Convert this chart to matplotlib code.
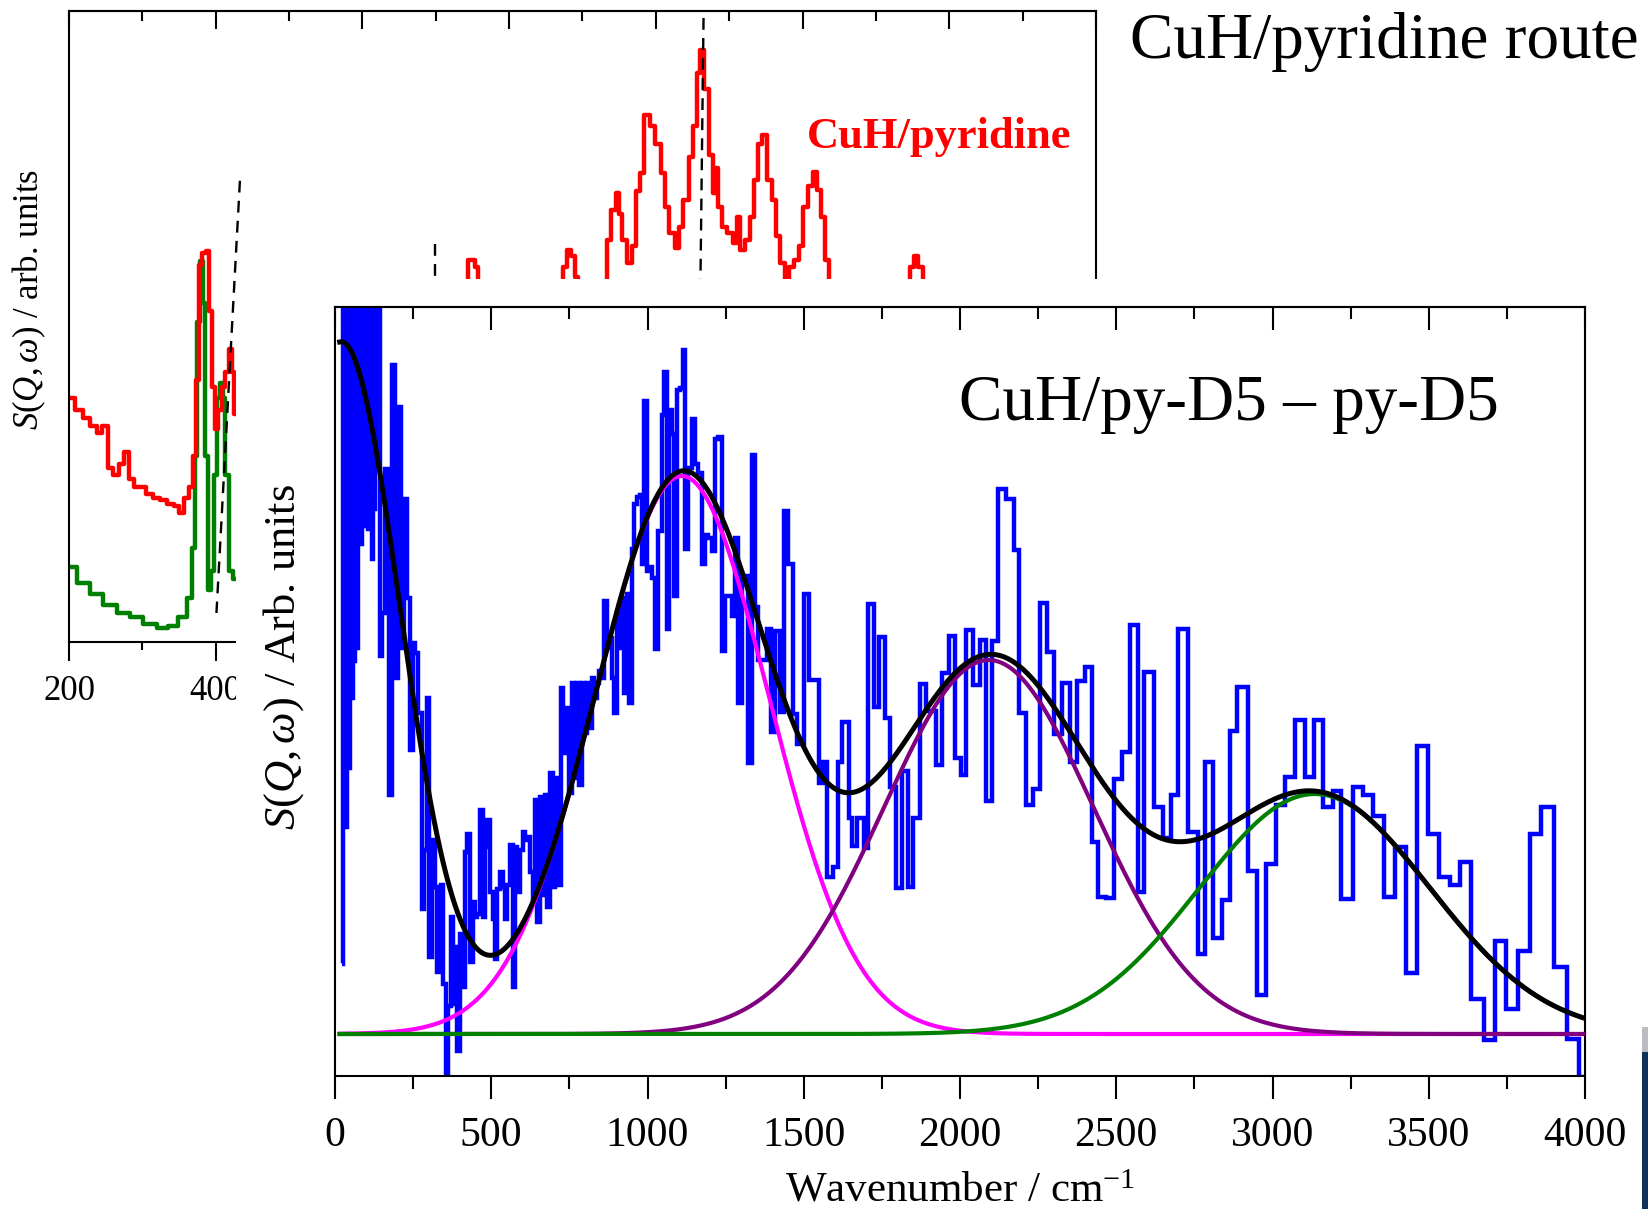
import numpy as np
import matplotlib
matplotlib.use("Agg")
import matplotlib.pyplot as plt
from matplotlib.patches import Rectangle
from matplotlib.ticker import MultipleLocator

plt.rcParams['font.family'] = ['Liberation Serif', 'DejaVu Serif']
plt.rcParams['mathtext.fontset'] = 'custom'
plt.rcParams['mathtext.rm'] = 'Liberation Serif'
plt.rcParams['mathtext.it'] = 'Liberation Serif:italic'
plt.rcParams['mathtext.bf'] = 'Liberation Serif:bold'

# ---------------- background spectrum (CuH/pyridine, partly hidden) ----------------
bg_red_x = [201, 215, 224, 233, 242, 249, 256, 265, 272, 279, 285, 292, 301, 310, 320, 329, 338, 347,
            354, 360, 367, 372, 375, 379, 384, 389, 392, 397, 401, 406, 411, 415, 420, 424, 426,
            440, 740, 748, 752, 756, 760, 870, 876, 881, 888, 892, 896, 930,
            936, 943, 948, 952, 957, 964, 970, 976, 981, 988, 995, 1003, 1010, 1015, 1022, 1029,
            1034, 1041, 1048, 1053, 1058, 1062, 1069, 1075, 1080, 1083, 1086, 1093, 1101, 1108,
            1112, 1117, 1125, 1131, 1137, 1142, 1148, 1155, 1161, 1166, 1172, 1179, 1185, 1191,
            1198, 1204, 1211, 1217, 1223, 1227, 1233, 1240, 1343, 1349, 1354, 1361, 1366, 1600]
bg_red_y = [.386, .367, .355, .343, .331, .343, .276, .264, .282, .301, .258, .246, .246, .234, .228,
            .225, .219, .216, .204, .228, .246, .295, .416, .598, .616, .619, .525, .404, .337, .367,
            .404, .428, .464, .428, .361,
            .45, .45, .606, .606, .595, .45, .45, .595, .621, .611, .579, .45, .45,
            .637, .685, .711, .679, .637, .600, .627, .714, .743, .835, .817, .790, .743, .690, .648,
            .624, .658, .701, .769, .817, .901, .938, .877, .772, .711, .751, .690, .658, .648, .632,
            .674, .621, .637, .674, .732, .790, .804, .732, .701, .643, .600, .569, .595, .605,
            .627, .690, .722, .745, .716, .674, .605, .45, .45, .595, .611, .595, .45, .45]

bg_green_x = [201, 220, 238, 256, 274, 292, 310, 329, 342, 356, 365, 370, 373, 377, 380, 384, 388,
              391, 395, 399, 404, 408, 411, 415, 420, 426, 440, 1600]
bg_green_y = [.119, .094, .076, .058, .046, .040, .028, .022, .025, .040, .070, .149, .294, .507,
              .604, .537, .294, .082, .113, .264, .386, .410, .386, .264, .113, .100, .10, .10]

# dashed guide lines of the background plot: (x_top, y_top, x_bottom, y_bottom)
bg_dash_x0 = [433, 699, 1065]
bg_dash_y0 = [0.731, 0.630, 0.989]
bg_dash_x1 = [401, 699, 1056]
bg_dash_y1 = [0.046, 0.100, 0.100]

# ---------------- inset spectrum: CuH/py-D5 - py-D5 ----------------
blue_bins = [(21, 0.70), (27, 7.5), (33, 2.07), (38, 7.5), (43, 2.66), (48, 7.5), (53, 3.36), (57, 7.5),
             (61, 3.73), (65, 7.5), (69, 3.86), (74, 7.5), (80, 4.90), (85, 7.5), (91, 5.57), (96, 5.08),
             (101, 7.5), (107, 5.05), (112, 7.5), (117, 4.75), (123, 5.25), (128, 7.5), (133, 5.85),
             (138, 7.5), (144, 3.78), (149, 4.21), (160, 5.65), (174, 2.39), (181, 6.69), (192, 3.56),
             (203, 6.27), (210, 3.86), (221, 5.35), (229, 4.36), (240, 2.84), (249, 3.91), (256, 3.81),
             (267, 3.21), (277, 1.25), (285, 1.84), (293, 3.36), (302, 0.77), (309, 1.94), (320, 1.47),
             (327, 0.62), (338, 1.49), (347, 0.50), (355, -0.42), (363, 0.28), (370, 1.17), (377, 0.30),
             (384, 0.87), (391, -0.17), (400, 1.00), (409, 0.47), (416, 1.82), (423, 2.00), (432, 0.72),
             (441, 1.32), (448, 1.17), (455, 1.20), (464, 2.24), (473, 1.17), (480, 1.87), (487, 2.14),
             (496, 1.42), (505, 1.15), (512, 0.75), (519, 1.45), (528, 1.62), (537, 1.47), (544, 1.15),
             (551, 1.49), (560, 1.89), (569, 0.47), (576, 1.87), (583, 1.42), (592, 1.84), (601, 2.02),
             (608, 1.94), (615, 1.97), (624, 1.62), (633, 1.32), (640, 2.34), (647, 1.12), (656, 2.37),
             (665, 1.39), (672, 2.39), (679, 1.27), (688, 2.61), (697, 1.47), (704, 2.56), (715, 1.49),
             (722, 3.46), (731, 2.81), (741, 3.26), (750, 2.41), (757, 3.51), (765, 2.56), (773, 3.51),
             (782, 2.49), (789, 3.51), (797, 3.01), (805, 3.51), (814, 3.06), (821, 3.56), (829, 3.36),
             (837, 3.51), (846, 3.63), (853, 3.56), (861, 4.33), (869, 3.86), (878, 3.96), (885, 3.56),
             (893, 3.21), (901, 4.21), (910, 3.86), (917, 4.36), (925, 3.41), (933, 4.40), (942, 3.31),
             (949, 4.85), (957, 5.30), (965, 5.37), (976, 5.39), (981, 4.70), (989, 6.33), (997, 4.63),
             (1005, 4.67), (1013, 4.56), (1024, 3.85), (1035, 5.03), (1045, 6.19), (1053, 6.62),
             (1061, 4.05), (1070, 6.24), (1077, 6.00), (1086, 4.38), (1095, 6.44), (1104, 6.46),
             (1113, 6.84), (1120, 4.85), (1131, 5.66), (1141, 6.15), (1152, 5.70), (1163, 5.61),
             (1173, 4.70), (1184, 4.99), (1195, 4.96), (1205, 4.83), (1216, 5.95), (1227, 5.97),
             (1237, 3.83), (1248, 4.38), (1259, 4.38), (1269, 4.18), (1280, 4.96), (1291, 3.31),
             (1301, 4.58), (1312, 4.58), (1323, 2.71), (1333, 5.79), (1344, 4.27), (1355, 3.74),
             (1381, 4.05), (1394, 3.02), (1408, 4.03), (1424, 3.22), (1437, 5.23), (1451, 4.70),
             (1467, 3.20), (1477, 2.90), (1502, 4.40), (1516, 3.54), (1549, 2.51), (1561, 2.72),
             (1575, 1.57), (1595, 1.67), (1609, 2.72), (1623, 3.12), (1644, 2.16), (1654, 1.88),
             (1670, 2.16), (1692, 1.86), (1704, 4.30), (1725, 3.27), (1742, 3.97), (1760, 3.16),
             (1777, 2.47), (1796, 1.46), (1813, 2.63), (1834, 1.47), (1851, 2.16), (1872, 3.50),
             (1890, 3.23), (1924, 2.69), (1941, 3.61), (1964, 3.98), (1985, 2.76), (2002, 2.59),
             (2019, 4.04), (2042, 3.49), (2063, 3.94), (2082, 2.33), (2102, 3.93), (2123, 5.45),
             (2146, 5.35), (2172, 4.84), (2189, 3.21), (2211, 2.29), (2232, 2.45), (2255, 4.31),
             (2279, 3.82), (2301, 3.00), (2327, 3.51), (2353, 2.72), (2374, 3.53), (2400, 3.67),
             (2423, 1.92), (2443, 1.37), (2466, 1.36), (2492, 2.55), (2518, 2.82), (2544, 4.09),
             (2570, 1.42), (2590, 3.62), (2622, 2.27), (2648, 1.96), (2674, 2.39), (2699, 4.05),
             (2731, 2.02), (2760, 0.80), (2783, 2.72), (2809, 0.96), (2838, 1.34), (2864, 3.03),
             (2886, 3.47), (2921, 1.63), (2950, 0.39), (2980, 1.70), (3011, 2.29), (3040, 2.57),
             (3072, 3.14), (3103, 2.57), (3132, 3.14), (3163, 2.27), (3193, 2.43), (3219, 1.35),
             (3259, 2.47), (3288, 2.39), (3323, 2.18), (3357, 1.37), (3392, 1.87), (3426, 0.61),
             (3461, 2.88), (3499, 2.00), (3534, 1.57), (3568, 1.49), (3599, 1.72), (3634, 0.35),
             (3677, -0.06), (3712, 0.93), (3747, 0.25), (3786, 0.83), (3824, 2.00), (3859, 2.27),
             (3902, 0.67), (3942, -0.05), (3980, -0.43)]
blue_end = 4000

# fitted Gaussian components: low-energy term, then the three bands
fit_centers = [20, 1110, 2092, 3135]
fit_heights = [6.92, 5.58, 3.74, 2.40]
fit_sigmas = [190, 278, 335, 370]
fit_colors = [None, '#FF00FF', '#800080', '#008000']
fit_xmin, fit_xmax = 15, 4000

# ---------------- figure ----------------
W, H = 1648, 1209
fig = plt.figure(figsize=(W / 100, H / 100), dpi=100)
fig.patch.set_facecolor('white')


def fx(px):
    return px / W


def fy(py):
    return 1 - py / H


# background axes
axb = fig.add_axes([fx(69), fy(642), fx(1096) - fx(69), fy(11) - fy(642)])
axb.set_zorder(0)
axb.set_xlim(200, 1600)
axb.set_ylim(0, 1)
axb.step(bg_green_x, bg_green_y, where='mid', color='#008000', lw=3.2)
axb.step(bg_red_x, bg_red_y, where='mid', color='#FF0000', lw=3.2)
for x0, y0, x1, y1 in zip(bg_dash_x0, bg_dash_y0, bg_dash_x1, bg_dash_y1):
    axb.plot([x0, x1], [y0, y1], color='black', lw=1.7, ls=(0, (5, 3.5)))
axb.set_yticks([])
axb.xaxis.set_major_locator(MultipleLocator(200))
axb.xaxis.set_minor_locator(MultipleLocator(100))
axb.tick_params(axis='x', which='major', direction='out', length=13.5, width=1.5,
                labelsize=25, pad=10)
axb.tick_params(axis='x', which='minor', direction='out', length=6, width=1.5)
for s in axb.spines.values():
    s.set_linewidth(1.5)
secb = axb.secondary_xaxis('top')
secb.xaxis.set_major_locator(MultipleLocator(200))
secb.xaxis.set_minor_locator(MultipleLocator(100))
secb.tick_params(axis='x', which='major', direction='in', length=13, width=1.5, labeltop=False)
secb.tick_params(axis='x', which='minor', direction='in', length=7, width=1.5)
secb.set_xticklabels([])
secb.spines['top'].set_linewidth(1.5)
axb.set_ylabel(r'$S(Q,\omega)$ / arb. units', fontsize=25, va='center')
axb.yaxis.set_label_coords(-0.0389, 0.542)
axb.text(0.7186, 0.7829, 'CuH/pyridine', transform=axb.transAxes, color='#FF0000',
         fontsize=32, fontweight='bold', ha='left', va='baseline')

# white cover of the pasted inset picture
fig.patches.append(Rectangle((fx(236), 0), 1 - fx(236), fy(279), transform=fig.transFigure,
                             facecolor='white', edgecolor='none', zorder=1))
# slide decoration at right edge
fig.patches.append(Rectangle((fx(1642), fy(1052)), 1 - fx(1642), fy(1027) - fy(1052),
                             transform=fig.transFigure, facecolor='#b9bcc0', edgecolor='none', zorder=1))
fig.patches.append(Rectangle((fx(1642), 0), 1 - fx(1642), fy(1052), transform=fig.transFigure,
                             facecolor='#0f3358', edgecolor='none', zorder=1))

# inset axes
axi = fig.add_axes([fx(335), fy(1076), fx(1585) - fx(335), fy(307) - fy(1076)])
axi.set_zorder(2)
axi.set_facecolor('none')
axi.set_xlim(0, 4000)
axi.set_ylim(-0.42, 7.27)

edges = [b[0] for b in blue_bins] + [blue_end]
vals = [b[1] for b in blue_bins]
axi.stairs(vals, edges, baseline=None, color='#0000FF', lw=3.2, zorder=2)

xf = np.linspace(fit_xmin, fit_xmax, 3000)
comps = [h * np.exp(-(xf - c) ** 2 / (2 * s ** 2)) for c, h, s in zip(fit_centers, fit_heights, fit_sigmas)]
for comp, col, z in zip(comps[1:], fit_colors[1:], [3, 4, 5]):
    axi.plot(xf, comp, color=col, lw=3.0, zorder=z)
axi.plot(xf, np.sum(comps, axis=0), color='black', lw=3.6, zorder=6)

axi.set_yticks([])
axi.xaxis.set_major_locator(MultipleLocator(500))
axi.xaxis.set_minor_locator(MultipleLocator(250))
axi.tick_params(axis='x', which='major', direction='out', length=16.5, width=1.5,
                labelsize=30, pad=13)
axi.tick_params(axis='x', which='minor', direction='out', length=9.4, width=1.5)
for s in axi.spines.values():
    s.set_linewidth(1.5)
seci = axi.secondary_xaxis('top')
seci.xaxis.set_major_locator(MultipleLocator(500))
seci.xaxis.set_minor_locator(MultipleLocator(250))
seci.tick_params(axis='x', which='major', direction='in', length=16.5, width=1.5, labeltop=False)
seci.tick_params(axis='x', which='minor', direction='in', length=8.6, width=1.5)
seci.set_xticklabels([])
seci.spines['top'].set_linewidth(1.5)

axi.set_xlabel(r'Wavenumber / cm$^{-1}$', fontsize=31, labelpad=12)
axi.set_ylabel(r'$S(Q,\omega)$ / Arb. units', fontsize=32, va='center')
axi.yaxis.set_label_coords(-0.0408, 0.545)
axi.text(0.4992, 0.853, 'CuH/py-D5 \u2013 py-D5', transform=axi.transAxes, fontsize=47,
         ha='left', va='baseline')

fig.text(fx(1130), fy(58), 'CuH/pyridine route', fontsize=47, ha='left', va='baseline')

fig.savefig('out.png', dpi=100)
